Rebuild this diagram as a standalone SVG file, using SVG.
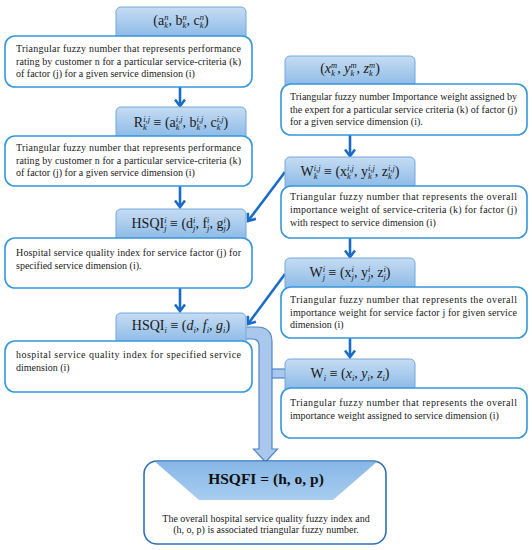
<svg xmlns="http://www.w3.org/2000/svg" width="532" height="550" viewBox="0 0 532 550">
<defs>
<linearGradient id="hg" x1="0" y1="0" x2="0" y2="1">
<stop offset="0" stop-color="#c6dcf3"/>
<stop offset="1" stop-color="#85b6e5"/>
</linearGradient>
<linearGradient id="tg" x1="0" y1="0" x2="0" y2="1">
<stop offset="0" stop-color="#86b7e6"/>
<stop offset="1" stop-color="#a9cdf0"/>
</linearGradient>
<marker id="ah" markerUnits="userSpaceOnUse" markerWidth="12" markerHeight="12" viewBox="0 0 12 12" refX="9" refY="6" orient="auto">
<path d="M2.5,1 L9,6 L2.5,11" fill="none" stroke="#1b6cc6" stroke-width="2.6"/>
</marker>
<style>
.hd{fill:url(#hg);stroke:#72a8dc;stroke-width:1}
.bx{fill:#fff;stroke:#3598dc;stroke-width:1.6}
.t{font-family:"Liberation Serif","Times New Roman",serif;font-size:10px;fill:#1a1a1a}
.m{font-family:"Liberation Serif","Times New Roman",serif;font-size:14px;fill:#1a1a1a}
.s{font-size:8.5px;font-style:italic}
.ar{stroke:#1b6cc6;stroke-width:2.6;fill:none;marker-end:url(#ah)}
.big{fill:#a9c8ec;stroke:#4f86c6;stroke-width:1.2}
</style>
</defs>

<g id="connectors">
<line class="ar" x1="180" y1="87" x2="180" y2="106"/>
<line class="ar" x1="180" y1="186" x2="180" y2="207"/>
<line class="ar" x1="180" y1="288" x2="180" y2="311"/>
<line class="ar" x1="350" y1="135" x2="350" y2="156"/>
<line class="ar" x1="350" y1="238" x2="350" y2="257"/>
<line class="ar" x1="350" y1="338" x2="350" y2="357"/>
<line class="ar" x1="285" y1="172" x2="248" y2="221"/>
<line class="ar" x1="285" y1="274" x2="248" y2="324"/>
<rect class="big" x="271" y="369" width="16" height="9"/>
<path class="big" d="M244 327 L257 327 Q272 327 272 342 L272 449 L277.5 449 L265.5 462 L253.5 449 L259 449 L259 346 Q259 339 252 339 L244 339 Z"/>
</g>

<g id="n-abc">
<rect class="hd" x="116" y="7" width="130" height="34" rx="5"/>
<rect class="bx" x="5" y="36" width="247" height="51" rx="10"/>
<text class="m" x="181" y="25" text-anchor="middle">(a<tspan class="s" dy="-5.5">n</tspan><tspan class="s" dx="-4.25" dy="8.5">k</tspan><tspan dx="0.45" dy="-3">, b</tspan><tspan class="s" dy="-5.5">n</tspan><tspan class="s" dx="-4.25" dy="8.5">k</tspan><tspan dx="0.45" dy="-3">, c</tspan><tspan class="s" dy="-5.5">n</tspan><tspan class="s" dx="-4.25" dy="8.5">k</tspan><tspan dx="0.45" dy="-3">)</tspan></text>
<text class="t" x="16" y="52" textLength="225" lengthAdjust="spacing">Triangular fuzzy number that represents performance</text>
<text class="t" x="16" y="64.5" textLength="225" lengthAdjust="spacing">rating by customer n for a particular service-criteria (k)</text>
<text class="t" x="16" y="77">of factor (j) for a given service dimension (i)</text>
</g>

<g id="n-R">
<rect class="hd" x="116" y="107" width="130" height="34" rx="5"/>
<rect class="bx" x="5" y="136" width="247" height="50" rx="10"/>
<text class="m" x="181" y="127" text-anchor="middle">R<tspan class="s" dy="-5.5">i,j</tspan><tspan class="s" dx="-6.9" dy="8.5">k</tspan><tspan dx="3.1" dy="-3"> ≡ (a</tspan><tspan class="s" dy="-5.5">i,j</tspan><tspan class="s" dx="-6.9" dy="8.5">k</tspan><tspan dx="3.1" dy="-3">, b</tspan><tspan class="s" dy="-5.5">i,j</tspan><tspan class="s" dx="-6.9" dy="8.5">k</tspan><tspan dx="3.1" dy="-3">, c</tspan><tspan class="s" dy="-5.5">i,j</tspan><tspan class="s" dx="-6.9" dy="8.5">k</tspan><tspan dx="3.1" dy="-3">)</tspan></text>
<text class="t" x="16" y="151" textLength="225" lengthAdjust="spacing">Triangular fuzzy number that represents performance</text>
<text class="t" x="16" y="163.5" textLength="225" lengthAdjust="spacing">rating by customer n for a particular service-criteria (k)</text>
<text class="t" x="16" y="176">of factor (j) for a given service dimension (i)</text>
</g>

<g id="n-HSQIij">
<rect class="hd" x="116" y="209" width="130" height="34" rx="5"/>
<rect class="bx" x="5" y="238" width="247" height="50" rx="10"/>
<text class="m" x="181" y="228" text-anchor="middle">HSQI<tspan class="s" dy="-5.5">i</tspan><tspan class="s" dx="-2.4" dy="8.5">j</tspan><tspan dy="-3"> ≡ (d</tspan><tspan class="s" dy="-5.5">i</tspan><tspan class="s" dx="-2.4" dy="8.5">j</tspan><tspan dy="-3">, f</tspan><tspan class="s" dy="-5.5">i</tspan><tspan class="s" dx="-2.4" dy="8.5">j</tspan><tspan dy="-3">, g</tspan><tspan class="s" dy="-5.5">i</tspan><tspan class="s" dx="-2.4" dy="8.5">j</tspan><tspan dy="-3">)</tspan></text>
<text class="t" x="16" y="256" textLength="225" lengthAdjust="spacing">Hospital service quality index for service factor (j) for</text>
<text class="t" x="16" y="269">specified service dimension (i).</text>
</g>

<g id="n-HSQIi">
<rect class="hd" x="116" y="313" width="130" height="34" rx="5"/>
<rect class="bx" x="5" y="341" width="247" height="51" rx="10"/>
<text class="m" x="181" y="330" text-anchor="middle">HSQI<tspan class="s" dy="3">i</tspan><tspan dy="-3"> ≡ (</tspan><tspan font-style="italic">d</tspan><tspan class="s" dy="3">i</tspan><tspan dy="-3">, </tspan><tspan font-style="italic">f</tspan><tspan class="s" dy="3">i</tspan><tspan dy="-3">, </tspan><tspan font-style="italic">g</tspan><tspan class="s" dy="3">i</tspan><tspan dy="-3">)</tspan></text>
<text class="t" x="16" y="358" textLength="225" lengthAdjust="spacing">hospital service quality index for specified service</text>
<text class="t" x="16" y="371">dimension (i)</text>
</g>

<g id="n-xyz">
<rect class="hd" x="285" y="56" width="130" height="34" rx="5"/>
<rect class="bx" x="281" y="84" width="246" height="51" rx="10"/>
<text class="m" x="350" y="73" text-anchor="middle">(<tspan font-style="italic">x</tspan><tspan class="s" dy="-5.5">m</tspan><tspan class="s" dx="-6.1" dy="8.5">k</tspan><tspan dx="2.3" dy="-3">, </tspan><tspan font-style="italic">y</tspan><tspan class="s" dy="-5.5">m</tspan><tspan class="s" dx="-6.1" dy="8.5">k</tspan><tspan dx="2.3" dy="-3">, </tspan><tspan font-style="italic">z</tspan><tspan class="s" dy="-5.5">m</tspan><tspan class="s" dx="-6.1" dy="8.5">k</tspan><tspan dx="2.3" dy="-3">)</tspan></text>
<text class="t" x="290" y="100" textLength="227" lengthAdjust="spacing">Triangular fuzzy number Importance weight assigned by</text>
<text class="t" x="290" y="112.5" textLength="227" lengthAdjust="spacing">the expert for a particular service criteria (k) of factor (j)</text>
<text class="t" x="290" y="125">for a given service dimension (i).</text>
</g>

<g id="n-W">
<rect class="hd" x="285" y="157" width="130" height="34" rx="5"/>
<rect class="bx" x="281" y="186" width="246" height="52" rx="10"/>
<text class="m" x="350" y="176" text-anchor="middle">W<tspan class="s" dy="-5.5">i,j</tspan><tspan class="s" dx="-6.9" dy="8.5">k</tspan><tspan dx="3.1" dy="-3"> ≡ (x</tspan><tspan class="s" dy="-5.5">i,j</tspan><tspan class="s" dx="-6.9" dy="8.5">k</tspan><tspan dx="3.1" dy="-3">, y</tspan><tspan class="s" dy="-5.5">i,j</tspan><tspan class="s" dx="-6.9" dy="8.5">k</tspan><tspan dx="3.1" dy="-3">, z</tspan><tspan class="s" dy="-5.5">i,j</tspan><tspan class="s" dx="-6.9" dy="8.5">k</tspan><tspan dx="3.1" dy="-3">)</tspan></text>
<text class="t" x="290" y="200" textLength="227" lengthAdjust="spacing">Triangular fuzzy number that represents the overall</text>
<text class="t" x="290" y="213" textLength="227" lengthAdjust="spacing">importance weight of service-criteria (k) for factor (j)</text>
<text class="t" x="290" y="225.5">with respect to service dimension (i)</text>
</g>

<g id="n-Wij">
<rect class="hd" x="285" y="258" width="130" height="34" rx="5"/>
<rect class="bx" x="281" y="287" width="246" height="51" rx="10"/>
<text class="m" x="350" y="277" text-anchor="middle">W<tspan class="s" dy="-5.5">i</tspan><tspan class="s" dx="-2.4" dy="8.5">j</tspan><tspan dy="-3"> ≡ (x</tspan><tspan class="s" dy="-5.5">i</tspan><tspan class="s" dx="-2.4" dy="8.5">j</tspan><tspan dy="-3">, y</tspan><tspan class="s" dy="-5.5">i</tspan><tspan class="s" dx="-2.4" dy="8.5">j</tspan><tspan dy="-3">, z</tspan><tspan class="s" dy="-5.5">i</tspan><tspan class="s" dx="-2.4" dy="8.5">j</tspan><tspan dy="-3">)</tspan></text>
<text class="t" x="290" y="303" textLength="227" lengthAdjust="spacing">Triangular fuzzy number that represents the overall</text>
<text class="t" x="290" y="315.5" textLength="227" lengthAdjust="spacing">importance weight for service factor j for given service</text>
<text class="t" x="290" y="328">dimension (i)</text>
</g>

<g id="n-Wi">
<rect class="hd" x="285" y="359" width="130" height="34" rx="5"/>
<rect class="bx" x="281" y="388" width="246" height="50" rx="10"/>
<text class="m" x="350" y="378" text-anchor="middle">W<tspan class="s" dy="3">i</tspan><tspan dy="-3"> ≡ (</tspan><tspan font-style="italic">x</tspan><tspan class="s" dy="3">i</tspan><tspan dy="-3">, </tspan><tspan font-style="italic">y</tspan><tspan class="s" dy="3">i</tspan><tspan dy="-3">, </tspan><tspan font-style="italic">z</tspan><tspan class="s" dy="3">i</tspan><tspan dy="-3">)</tspan></text>
<text class="t" x="290" y="406" textLength="227" lengthAdjust="spacing">Triangular fuzzy number that represents the overall</text>
<text class="t" x="290" y="419">importance weight assigned to service dimension (i)</text>
</g>

<g id="n-HSQFI">
<rect x="144" y="461" width="242" height="83" rx="13" fill="#fff" stroke="#2f70b8" stroke-width="1.6"/>
<path d="M155 461.8 L377 461.8 L333 500 L199 500 Z" fill="url(#tg)"/>
<text x="266" y="484" text-anchor="middle" font-family="Liberation Serif, Times New Roman, serif" font-size="15.5" font-weight="bold" fill="#111">HSQFI = (h, o, p)</text>
<text class="t" x="266" y="522" text-anchor="middle">The overall hospital service quality fuzzy index and</text>
<text class="t" x="266" y="533" text-anchor="middle">(h, o, p) is associated triangular fuzzy number.</text>
</g>
</svg>
